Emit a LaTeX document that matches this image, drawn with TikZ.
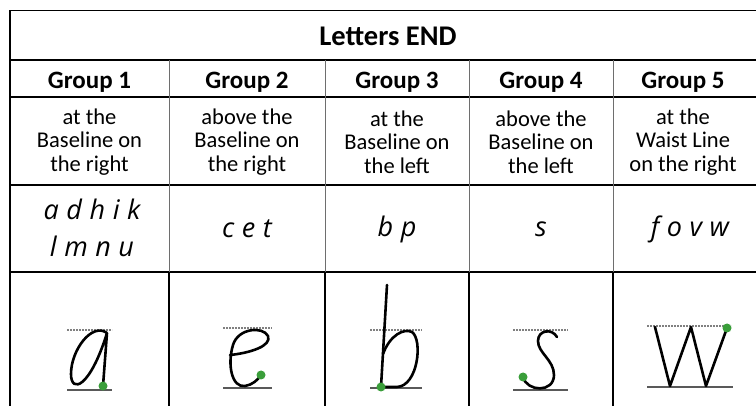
\documentclass[tikz,border=0pt]{standalone}
\usepackage{fontspec}
\setmainfont{Carlito}
\newfontfamily\trazo[LetterSpace=28]{Open Sans}
\usetikzlibrary{calc}

\definecolor{verdepunto}{RGB}{58,158,58}
\definecolor{grislinea}{RGB}{110,110,110}

\begin{document}
\begin{tikzpicture}[x=1pt,y=-1pt,
    borde/.style={line width=1.6pt},
    division/.style={line width=0.8pt, grislinea},
    texto/.style={inner sep=0pt, align=center, font=\fontsize{22.5}{23.5}\selectfont},
    negrita/.style={inner sep=0pt, anchor=base, font=\fontsize{25}{28}\selectfont\bfseries},
    mano/.style={inner sep=0pt, align=center, font=\fontsize{27}{37}\selectfont\trazo\itshape},
    pauta/.style={line width=1.2pt, gray, dash pattern=on 2pt off 1pt},
    base/.style={line width=2pt, black!65},
    letra/.style={line width=2.6pt, line cap=round, line join=round},
    punto/.style={circle, fill=verdepunto, inner sep=0pt, minimum size=9pt}]

    \useasboundingbox (0,0) rectangle (756,406);

    % Bordes de la tabla
    \draw[borde] (10,406) -- (10,10.5) -- (756,10.5);
    \foreach \y in {60,97,185,272}
        \draw[borde] (10,\y) -- (756,\y);
    \foreach \x in {169,325,469,613} {
        \draw[division] (\x,60) -- (\x,272);
        \draw[borde] (\x,272) -- (\x,406);
    }

    % Encabezado
    \node[negrita, font=\fontsize{28.5}{30}\selectfont\bfseries] (titulo) at (388,46) {Letters END};
    \node[negrita] (g1) at (89.5,89) {Group 1};
    \node[negrita] (g2) at (247,89) {Group 2};
    \node[negrita] (g3) at (397,89) {Group 3};
    \node[negrita] (g4) at (541,89) {Group 4};
    \node[negrita] (g5) at (683,89) {Group 5};

    % Descripciones
    \node[texto] (d1) at (89.5,142) {at the\\Baseline on\\the right};
    \node[texto] (d2) at (247,142) {above the\\Baseline on\\the right};
    \node[texto] (d3) at (397,142) {at the\\Baseline on\\the left};
    \node[texto] (d4) at (541,142) {above the\\Baseline on\\the left};
    \node[texto] (d5) at (683,142) {at the\\Waist Line\\on the right};

    % Letras de cada grupo
    \node[mano] (l1) at (92,228) {adhik\\lmnu};
    \node[mano] (l2) at (247,229) {cet};
    \node[mano] (l3) at (397,229) {bp};
    \node[mano] (l4) at (541,229) {s};
    \node[mano] (l5) at (690,229) {fovw};

    % Letra a
    \draw[pauta] (67,330) -- (112,330);
    \draw[base] (67,390) -- (112,390);
    \draw[letra] (107,333) .. controls (92,322) and (71,350) .. (71,374)
        .. controls (71,394) and (90,388) .. (107,333) -- (103,386);
    \node[punto] (pa) at (103,386) {};

    % Letra e
    \draw[pauta] (223,328) -- (272,328);
    \draw[base] (223,388) -- (272,388);
    \draw[letra] (230,355) .. controls (250,353) and (272,346) .. (268,336)
        .. controls (263,326) and (238,328) .. (233,345)
        .. controls (227,365) and (232,388) .. (245,386)
        .. controls (252,385) and (258,380) .. (261,375);
    \node[punto] (pe) at (261,375) {};

    % Letra b
    \draw[pauta] (370,330) -- (422,330);
    \draw[base] (370,388) -- (422,388);
    \draw[letra] (387,285) -- (381,387);
    \draw[letra] (383,354) .. controls (390,335) and (404,328) .. (412,332)
        .. controls (423,340) and (418,386) .. (397,387) -- (382,387);
    \node[punto] (pb) at (381,387) {};

    % Letra s
    \draw[pauta] (513,330) -- (568,330);
    \draw[base] (513,390) -- (568,390);
    \draw[letra] (557,337) .. controls (552,328) and (538,330) .. (538,341)
        .. controls (538,353) and (554,360) .. (554,375)
        .. controls (554,393) and (527,392) .. (523,377);
    \node[punto] (ps) at (523,377) {};

    % Letra W
    \draw[pauta] (647,326) -- (731,326);
    \draw[base] (647,387) -- (733,387);
    \draw[letra] (655,327) -- (670,386) -- (691,327) -- (706,386) -- (727,328);
    \node[punto] (pw) at (727,328) {};

\end{tikzpicture}
\end{document}
